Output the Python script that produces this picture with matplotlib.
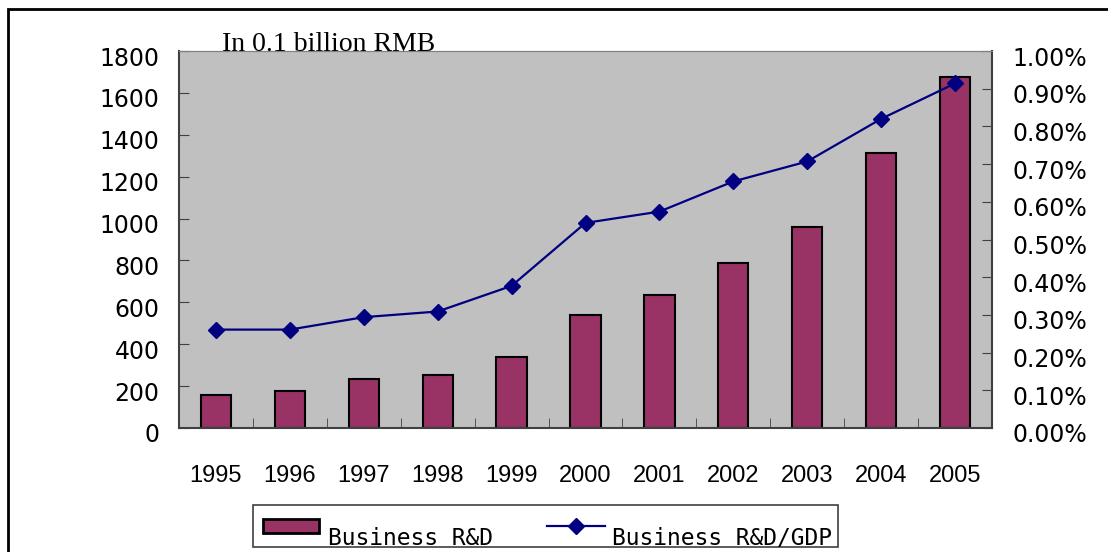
import matplotlib
matplotlib.use('Agg')
import matplotlib.pyplot as plt
from matplotlib.patches import Rectangle
from matplotlib.lines import Line2D
from matplotlib.ticker import FixedLocator, FuncFormatter
from matplotlib.transforms import ScaledTranslation

years = ['1995', '1996', '1997', '1998', '1999', '2000',
         '2001', '2002', '2003', '2004', '2005']
business_rd = [158, 177, 234, 252, 339, 540, 634, 786, 958, 1312, 1676]
rd_gdp = [0.261, 0.261, 0.294, 0.309, 0.377, 0.544,
          0.574, 0.654, 0.707, 0.820, 0.914]

W, H = 1108, 552
BAR_COLOR = '#993366'
LINE_COLOR = '#000080'
fig = plt.figure(figsize=(W / 100, H / 100), dpi=100)


def px(x, y):
    # pixel position (from top-left) -> figure fraction
    return x / W, 1 - y / H


# outer chart border (cropped on the right and bottom)
fig.patches.append(Rectangle((8 / W, -0.1), 1.2, (H - 9) / H + 0.1,
                             transform=fig.transFigure, fill=False,
                             edgecolor='black', linewidth=2))

ax = fig.add_axes([179 / W, 1 - 428 / H, (992 - 179) / W, (428 - 51) / H])
ax.set_facecolor('#C0C0C0')
x = list(range(len(years)))
ax.bar(x, business_rd, width=0.41, color=BAR_COLOR, edgecolor='black',
       linewidth=1.5, zorder=2)
ax.set_xlim(-0.5, len(years) - 0.5)
ax.set_ylim(0, 1800)
ax.set_yticks(range(0, 1801, 200))
ax.set_xticks(x)
ax.set_xticklabels(years)
ax.xaxis.set_minor_locator(FixedLocator([i + 0.5 for i in x[:-1]]))
ax.tick_params(axis='x', which='major', length=0, pad=27, labelsize=17)
ax.tick_params(axis='x', which='minor', direction='in', length=7,
               color='#404040')
ax.tick_params(axis='y', direction='in', length=7, pad=14, labelsize=17,
               color='#404040')
for lab in ax.get_xticklabels():
    lab.set_family('Liberation Sans')
for side in ['left', 'bottom']:
    ax.spines[side].set_color('#404040')
    ax.spines[side].set_linewidth(1.5)
ax.spines['top'].set_color('#808080')
ax.spines['right'].set_visible(False)

ax2 = ax.twinx()
ax2.plot(x, rd_gdp, color=LINE_COLOR, linewidth=1.6, marker='D',
         markersize=8, zorder=3)
ax2.set_ylim(0, 1.0)
ax2.set_yticks([i / 10 for i in range(11)])
ax2.yaxis.set_major_formatter(FuncFormatter(lambda v, p: '%.2f%%' % v))
ax2.tick_params(axis='y', direction='in', length=7, pad=15, labelsize=17,
                color='#404040')
ax2.spines['right'].set_color('#404040')
ax2.spines['right'].set_linewidth(1.5)
ax2.spines['top'].set_color('#808080')
ax2.spines['left'].set_visible(False)
ax2.spines['bottom'].set_visible(False)

# value labels sit a little below their gridline, like the original
shift = ScaledTranslation(0, -5 / 100, fig.dpi_scale_trans)
for tick in ax.yaxis.get_major_ticks():
    tick.label1.set_family('DejaVu Sans')
    tick.label1.set_transform(tick.label1.get_transform() + shift)
for tick in ax2.yaxis.get_major_ticks():
    tick.label2.set_family('DejaVu Sans')
    tick.label2.set_transform(tick.label2.get_transform() + shift)

fig.text(*px(222, 51), 'In 0.1 billion RMB', family='Liberation Serif',
         fontsize=20, va='baseline', ha='left')

# legend box, drawn by hand so the text can sit on its bottom edge
fig.patches.append(Rectangle(px(253, 547), (838 - 253) / W, 42 / H,
                             transform=fig.transFigure, fill=False,
                             edgecolor='#404040', linewidth=1.2))
fig.patches.append(Rectangle(px(263, 533), 56 / W, 14 / H,
                             transform=fig.transFigure, facecolor=BAR_COLOR,
                             edgecolor='black', linewidth=2))
fig.lines.append(Line2D([547 / W, 605 / W], [1 - 526 / H, 1 - 526 / H],
                        transform=fig.transFigure, color=LINE_COLOR,
                        linewidth=1.6))
fig.lines.append(Line2D([576 / W], [1 - 526 / H], transform=fig.transFigure,
                        color=LINE_COLOR, marker='D', markersize=8))
legend_font = {'family': 'DejaVu Sans Mono', 'size': 16.5}
fig.text(*px(328, 545), 'Business R&D', va='baseline', ha='left',
         **legend_font)
fig.text(*px(612, 545), 'Business R&D/GDP', va='baseline', ha='left',
         **legend_font)

fig.savefig('out.png', dpi=100)
